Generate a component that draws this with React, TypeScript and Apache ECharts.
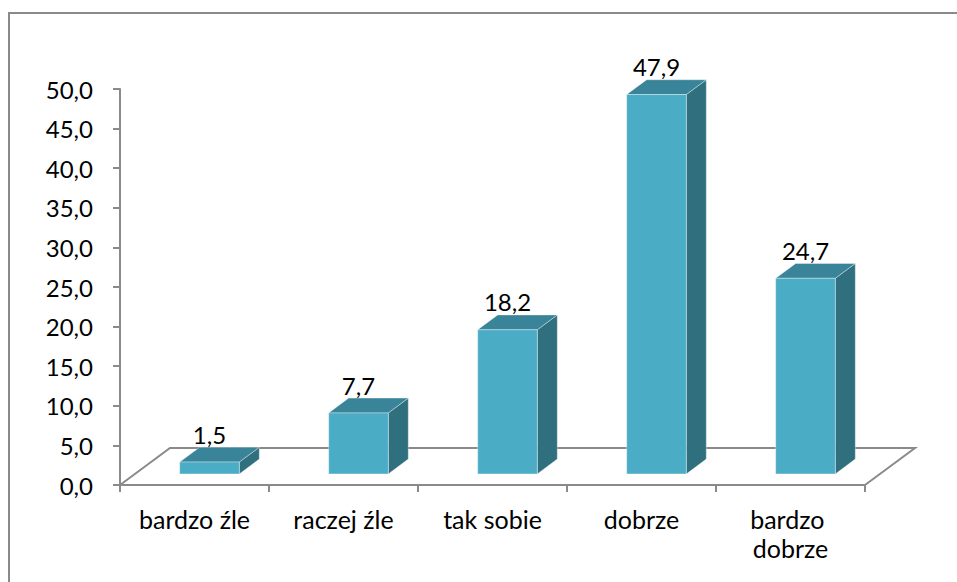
import React, { useEffect, useRef } from "react";
import * as echarts from "echarts";

const categories = ["bardzo źle", "raczej źle", "tak sobie", "dobrze", "bardzo dobrze"];
const values = [1.5, 7.7, 18.2, 47.9, 24.7];
const yTicks = { min: 0, max: 50, interval: 5 };

const FONT = "Lato, 'Noto Sans', sans-serif";
const DX = 50;
const DY = -37;
const FRONT = "#4bacc6";
const TOP = "#3a8499";
const SIDE = "#306f7e";
const AXIS = "#8a8a8a";

export default function App() {
  const ref = useRef<HTMLDivElement>(null);
  useEffect(() => {
    const chart = echarts.init(ref.current!, null, { renderer: "svg" });
    const data = values.map((v, i) => [i, v]);
    chart.setOption({
      animation: false,
      backgroundColor: "#ffffff",
      grid: { left: 120, top: 89, width: 745, height: 396, containLabel: false, outerBoundsMode: "none" },
      graphic: [
        {
          type: "rect",
          shape: { x: 9, y: 13, width: 1000, height: 700 },
          style: { fill: "none", stroke: AXIS, lineWidth: 2 },
          silent: true,
        },
      ],
      xAxis: {
        type: "category",
        data: categories,
        boundaryGap: true,
        axisLine: { show: true, lineStyle: { color: AXIS, width: 2 } },
        axisTick: { show: true, length: 7, lineStyle: { color: AXIS, width: 2 } },
        axisLabel: {
          interval: 0,
          fontSize: 25,
          fontFamily: FONT,
          color: "#000",
          margin: 19,
          lineHeight: 29,
          width: 140,
          overflow: "break",
        },
        splitLine: { show: false },
      },
      yAxis: {
        type: "value",
        min: yTicks.min,
        max: yTicks.max,
        interval: yTicks.interval,
        axisLine: { show: true, lineStyle: { color: AXIS, width: 2 } },
        axisTick: { show: true, length: 7, lineStyle: { color: AXIS, width: 2 } },
        axisLabel: {
          fontSize: 24,
          fontFamily: FONT,
          color: "#000",
          margin: 27,
          formatter: (v: number) => v.toFixed(1).replace(".", ","),
        },
        splitLine: { show: false },
      },
      series: [
        {
          type: "custom",
          data,
          encode: { x: 0, y: 1 },
          renderItem: (params: any, api: any) => {
            const idx = api.value(0);
            const v = api.value(1);
            const top = api.coord([idx, v]);
            const base = api.coord([idx, 0]);
            const band = api.size([1, 0])[0];
            const bw = band * 0.4;
            const f = 0.3;
            const d = 0.4;
            const cx = top[0] + f * DX;
            const fx = cx - bw / 2;
            const ty = top[1] + f * DY;
            const by = base[1] + f * DY;
            const children: any[] = [];
            if (params.dataIndex === 0) {
              const cs = params.coordSys;
              const x0 = cs.x;
              const x1 = cs.x + cs.width;
              const y0 = base[1];
              children.push({
                type: "polyline",
                z2: 0,
                shape: {
                  points: [
                    [x0, y0],
                    [x0 + DX, y0 + DY],
                    [x1 + DX, y0 + DY],
                    [x1, y0],
                  ],
                },
                style: { stroke: AXIS, lineWidth: 2, fill: "none" },
              });
            }
            const edge = "rgba(255,255,255,0.35)";
            children.push({
              type: "polygon",
              z2: 10,
              shape: {
                points: [
                  [fx + bw, ty],
                  [fx + bw + d * DX, ty + d * DY],
                  [fx + bw + d * DX, by + d * DY],
                  [fx + bw, by],
                ],
              },
              style: { fill: SIDE, stroke: edge, lineWidth: 1 },
            });
            children.push({
              type: "polygon",
              z2: 10,
              shape: {
                points: [
                  [fx, ty],
                  [fx + bw, ty],
                  [fx + bw + d * DX, ty + d * DY],
                  [fx + d * DX, ty + d * DY],
                ],
              },
              style: { fill: TOP, stroke: edge, lineWidth: 1 },
            });
            children.push({
              type: "rect",
              z2: 11,
              shape: { x: fx, y: ty, width: bw, height: by - ty },
              style: { fill: FRONT, stroke: edge, lineWidth: 1 },
            });
            children.push({
              type: "text",
              z2: 12,
              style: {
                x: cx,
                y: ty + d * DY - 1,
                text: v.toFixed(1).replace(".", ","),
                fontSize: 24,
                fontFamily: FONT,
                fill: "#000",
                align: "center",
                verticalAlign: "bottom",
              },
            });
            return { type: "group", children };
          },
        },
      ],
    });
    return () => chart.dispose();
  }, []);
  return (
    <div
      ref={ref}
      style={{ position: "absolute", left: 0, top: 0, width: 957, height: 582 }}
    />
  );
}
